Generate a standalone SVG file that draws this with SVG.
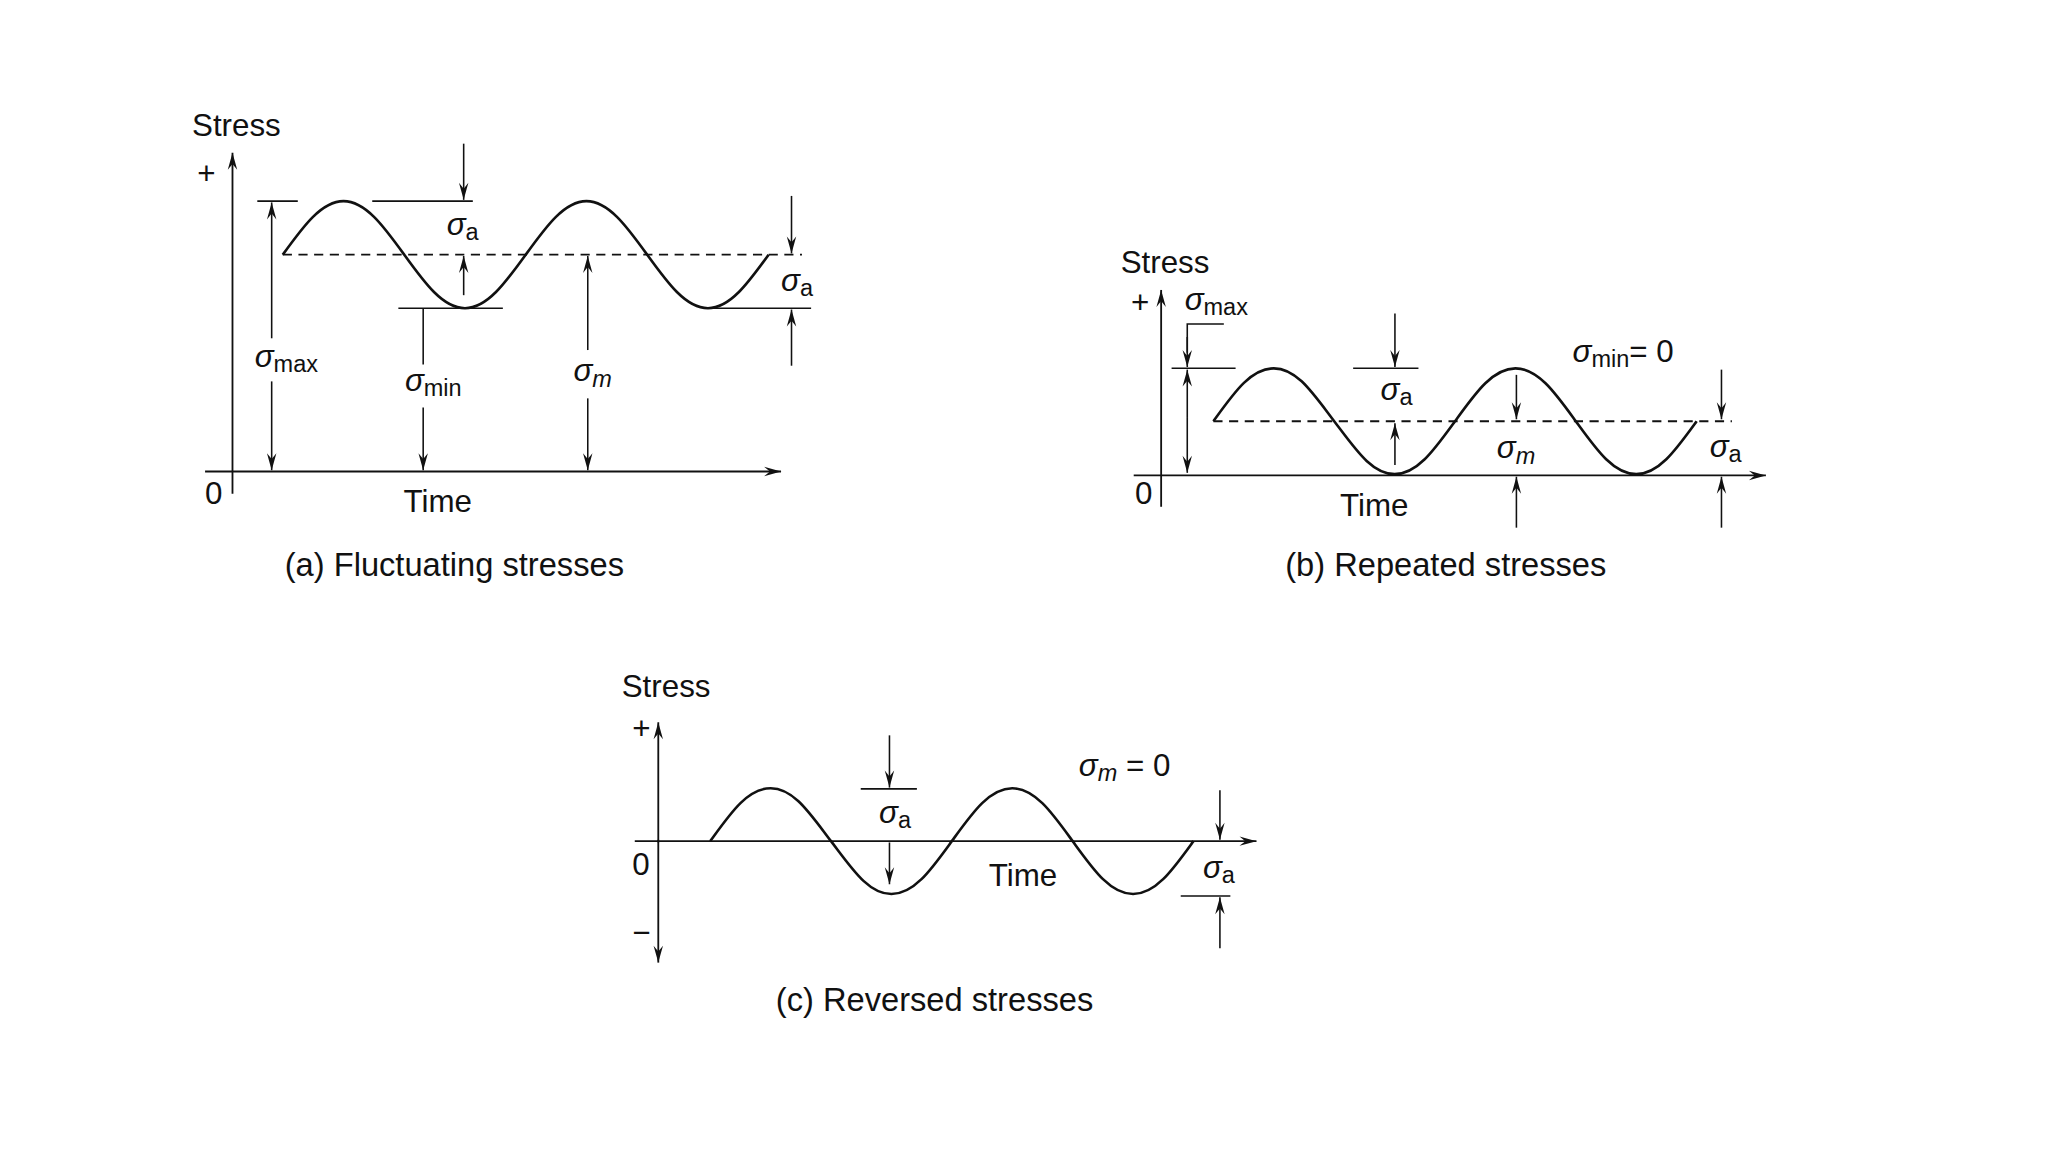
<svg xmlns="http://www.w3.org/2000/svg" width="2048" height="1152" viewBox="0 0 2048 1152">
<defs>
<marker id="ah" markerUnits="userSpaceOnUse" markerWidth="16" markerHeight="10" viewBox="-14 -5 16 10" refX="0" refY="0" orient="auto-start-reverse">
<path d="M0,0 L-13,-3.6 L-8.5,0 L-13,3.6 Z" fill="#111"/>
</marker>
</defs>
<style>
.ln{stroke:#111;stroke-width:1.2;fill:none}
.ax{stroke:#111;stroke-width:1.4;fill:none}
.wv{stroke:#111;stroke-width:2;fill:none}
.dsh{stroke:#111;stroke-width:1.4;fill:none;stroke-dasharray:7 5}
.ar{marker-end:url(#ah)}
text{font-family:"Liberation Sans",Arial,sans-serif;font-size:24px;fill:#111}
.cap{font-size:25px}
.sg{font-style:italic}
.sb{font-size:18px}
</style>
<rect width="2048" height="1152" fill="#fff"/>
<g transform="scale(1.306122)">
<!-- Panel (a) -->
<g id="panel-a">
<text x="147" y="104">Stress</text>
<text x="151" y="141" font-size="20">+</text>
<text x="157" y="386">0</text>
<text x="309" y="392">Time</text>
<text class="cap" x="218" y="441">(a) Fluctuating stresses</text>
</g>
<g id="axes-a">
<path class="ax ar" d="M178,378 L178,117"/>
<path class="ax ar" d="M157,361 L598,361"/>
</g>
<g id="wave-a">
<path class="wv" d="M216.5,195 C232.05,173.47 246.1,154 263,154 S293.95,173.47 309.5,195 S339.1,236 356,236 S386.95,216.53 402.5,195 S432.1,154 449,154 S479.95,173.47 495.5,195 S525.1,236 542,236 S572.95,216.53 588.5,195"/>
<path class="dsh" d="M216.5,195 L614,195"/>
</g>
<g id="dims-a">
<path class="ln" d="M197,154 L228,154 M285,154 L362,154 M305,236 L385,236 M540,236 L621,236"/>
<path class="ln ar" d="M208,259 L208,155"/>
<path class="ln ar" d="M208,292 L208,360"/>
<path class="ln ar" d="M355,110 L355,153"/>
<path class="ln ar" d="M355,226 L355,196"/>
<path class="ln" d="M324,236 L324,279"/>
<path class="ln ar" d="M324,312 L324,360"/>
<path class="ln ar" d="M450,268 L450,196"/>
<path class="ln ar" d="M450,305 L450,360"/>
<path class="ln ar" d="M606,150 L606,194"/>
<path class="ln ar" d="M606,280 L606,237"/>
</g>
<g id="labels-a">
<text x="342" y="180"><tspan class="sg">σ</tspan><tspan class="sb" dy="4">a</tspan></text>
<text x="598" y="223"><tspan class="sg">σ</tspan><tspan class="sb" dy="4">a</tspan></text>
<text x="195" y="281"><tspan class="sg">σ</tspan><tspan class="sb" dy="4">max</tspan></text>
<text x="310" y="299"><tspan class="sg">σ</tspan><tspan class="sb" dy="4">min</tspan></text>
<text x="439" y="292"><tspan class="sg">σ</tspan><tspan class="sb sg" dy="4">m</tspan></text>
</g>

<!-- Panel (b) -->
<g id="panel-b">
<text x="858" y="209">Stress</text>
<text x="866" y="240" font-size="20">+</text>
<text x="869" y="386">0</text>
<text x="1026" y="395">Time</text>
<text class="cap" x="984" y="441">(b) Repeated stresses</text>
</g>
<g id="axes-b">
<path class="ax ar" d="M889,388 L889,222"/>
<path class="ax ar" d="M868,364 L1352,364"/>
</g>
<g id="wave-b">
<path class="wv" d="M929,322.5 C944.46,301.23 957.44,282 975.25,282 S1005.29,301.23 1021.5,322.5 S1050.19,363 1067.75,363 S1098.54,343.77 1114,322.5 S1142.69,282 1160.25,282 S1191.04,301.23 1206.5,322.5 S1235.19,363 1252.75,363 S1283.54,343.77 1299,322.5"/>
<path class="dsh" d="M929,322.5 L1326,322.5"/>
</g>
<g id="dims-b">
<path class="ln" d="M937,248 L909,248 L909,270 M897,282 L946,282 M1036,282 L1086,282"/>
<path class="ln ar" d="M909,258 L909,281"/>
<path class="ln ar" d="M909,320 L909,283"/>
<path class="ln ar" d="M909,320 L909,362"/>
<path class="ln ar" d="M1068,240 L1068,281"/>
<path class="ln ar" d="M1068,356 L1068,324"/>
<path class="ln ar" d="M1161,287 L1161,321"/>
<path class="ln ar" d="M1161,404 L1161,365"/>
<path class="ln ar" d="M1318,283 L1318,321"/>
<path class="ln ar" d="M1318,404 L1318,365"/>
</g>
<g id="labels-b">
<text x="907" y="237"><tspan class="sg">σ</tspan><tspan class="sb" dy="4">max</tspan></text>
<text x="1057" y="306"><tspan class="sg">σ</tspan><tspan class="sb" dy="4">a</tspan></text>
<text x="1146" y="351"><tspan class="sg">σ</tspan><tspan class="sb sg" dy="4">m</tspan></text>
<text x="1309" y="350"><tspan class="sg">σ</tspan><tspan class="sb" dy="4">a</tspan></text>
<text x="1204" y="277"><tspan class="sg">σ</tspan><tspan class="sb" dy="4">min</tspan><tspan dy="-4">= 0</tspan></text>
</g>

<!-- Panel (c) -->
<g id="panel-c">
<text x="476" y="534">Stress</text>
<text x="484" y="566" font-size="20">+</text>
<text x="484" y="722" font-size="20">−</text>
<text x="484" y="670">0</text>
<text x="757" y="678">Time</text>
<text class="cap" x="594" y="774">(c) Reversed stresses</text>
</g>
<g id="axes-c">
<path class="ax ar" d="M504,645 L504,553"/>
<path class="ax ar" d="M504,643 L504,737"/>
<path class="ax ar" d="M486,644 L962,644"/>
</g>
<g id="wave-c">
<path class="wv" d="M543.75,644 C559.21,622.73 572.19,603.5 590,603.5 S620.04,622.73 636.25,644 S664.94,684.5 682.5,684.5 S713.29,665.27 728.75,644 S757.44,603.5 775,603.5 S805.79,622.73 821.25,644 S849.94,684.5 867.5,684.5 S898.29,665.27 913.75,644"/>
</g>
<g id="dims-c">
<path class="ln" d="M659,604 L702,604 M904,686 L942,686"/>
<path class="ln ar" d="M681,563 L681,603"/>
<path class="ln ar" d="M681,645 L681,677"/>
<path class="ln ar" d="M934,605 L934,643"/>
<path class="ln ar" d="M934,726 L934,687"/>
</g>
<g id="labels-c">
<text x="673" y="630"><tspan class="sg">σ</tspan><tspan class="sb" dy="4">a</tspan></text>
<text x="921" y="672"><tspan class="sg">σ</tspan><tspan class="sb" dy="4">a</tspan></text>
<text x="826" y="594"><tspan class="sg">σ</tspan><tspan class="sb sg" dy="4">m</tspan><tspan dy="-4"> = 0</tspan></text>
</g>
</g>
</svg>
